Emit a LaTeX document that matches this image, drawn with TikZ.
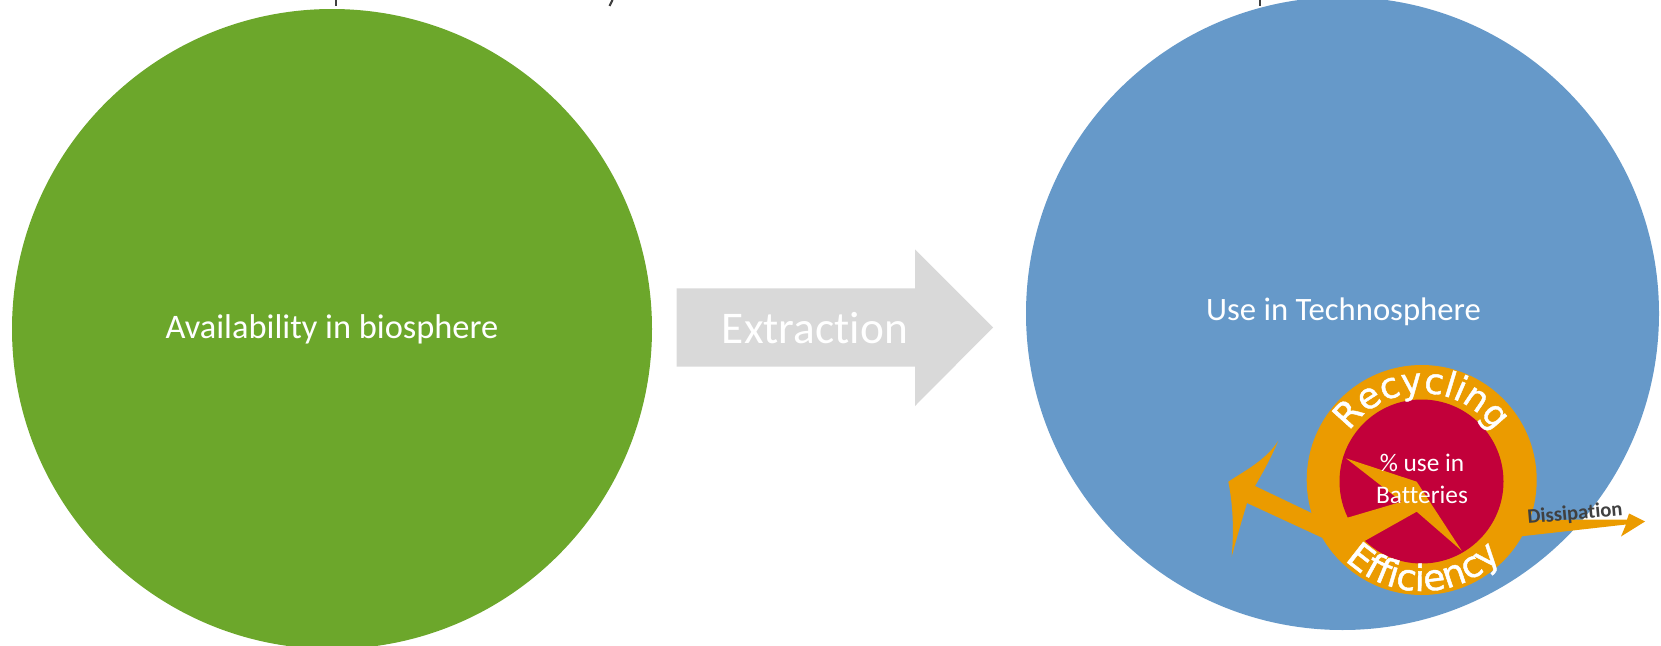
\documentclass[tikz,border=0pt]{standalone}
\usepackage{fontspec}
\setmainfont{Carlito}[Ligatures={NoCommon}]
\newfontfamily\ringfont{DejaVu Sans}[FakeBold=1.2]
\usetikzlibrary{decorations.text}
\definecolor{bgreen}{HTML}{6CA72B}
\definecolor{tblue}{HTML}{6699C9}
\definecolor{ringorange}{HTML}{EB9B00}
\definecolor{battred}{HTML}{C2003A}
\definecolor{arrowgray}{HTML}{D9D9D9}
\definecolor{darktext}{HTML}{404040}
\tikzset{
  sphere/.style={circle, inner sep=0pt, text=white},
  ringlabel/.style={text=white, align=center, font=\fontsize{19}{24}\selectfont},
  descender/.style={darktext, line width=1.6pt}
}
\begin{document}
\begin{tikzpicture}[x=0.75pt,y=-0.75pt]
\useasboundingbox (0,0) rectangle (1661,646);
\clip (0,0) rectangle (1661,646);
% cut-off title descenders
\draw[descender] (335.7,0) -- (335.7,6);
\draw[descender] (612.5,0) -- (609.5,6);
\draw[descender] (1260,0) -- (1260,6);
% spheres
\node[sphere, fill=bgreen, minimum size=480pt, font=\fontsize{25.8}{30}\selectfont] (bio) at (332,329) {Availability in biosphere};
\node[sphere, fill=tblue, minimum size=474.75pt] (techno) at (1342.5,313.5) {};
\node[text=white, font=\fontsize{24.5}{29}\selectfont] (technolabel) at (1343.5,311.5) {Use in Technosphere};
% extraction arrow
\fill[arrowgray] (676.7,288.3) -- (915,288.3) -- (915,249.3) -- (993,327.5) -- (915,406) -- (915,366.7) -- (676.7,366.7) -- cycle;
\node[text=white, font=\fontsize{34}{40}\selectfont] (extraction) at (815,328.5) {Extraction};
% big recycling arrow (outside ring)
\fill[ringorange] (1228.3,481.7) .. controls (1246,470) and (1266,460) .. (1278.3,440.7)
  .. controls (1270,460) and (1262,474) .. (1255,486)
  -- (1322,518) -- (1340,546)
  -- (1247,503)
  .. controls (1242,520) and (1236,540) .. (1231.7,556.7)
  .. controls (1234,530) and (1233,505) .. cycle;
% ring
\node[circle, inner sep=0pt, fill=ringorange, minimum size=172.5pt] (ring) at (1421.7,480) {};
% dissipation arrow
\fill[ringorange] (1515,520) -- (1627,519.5) .. controls (1628,517) .. (1629,513.5)
  -- (1645,521.5) -- (1621,536.5) .. controls (1624,530) .. (1626,524.5)
  -- (1515,537) -- cycle;
\node[text=darktext, rotate=5, font=\bfseries\fontsize{15.5}{18}\selectfont] (dissipation) at (1575,514) {Dissipation};
% battery core
\node[circle, inner sep=0pt, fill=battred, minimum size=123pt] (batt) at (1421.5,481.5) {};
\fill[ringorange] (1346,458.3) -- (1416.7,481.7) -- (1461.7,550.7) -- (1416.7,511.7)
  -- (1361,543) -- (1343,519) -- (1401.7,501.7) -- cycle;
\node[ringlabel] (battlabel) at (1422,479) {\% use in\\Batteries};
% ring texts
\begin{scope}[shift={(1421.7,480)}, y=0.75pt]
\path[decorate, decoration={text along path, text align=center,
  text={|\ringfont\fontsize{26.5}{31}\selectfont\color{white}|Recycling}}]
  (170:87) arc[start angle=170, end angle=10, radius=87];
\path[decorate, decoration={text along path, text align=center,
  text={|\ringfont\fontsize{27}{32}\selectfont\color{white}|Efficiency}}]
  (196:111) arc[start angle=196, end angle=346, radius=111];
\end{scope}
\end{tikzpicture}
\end{document}
